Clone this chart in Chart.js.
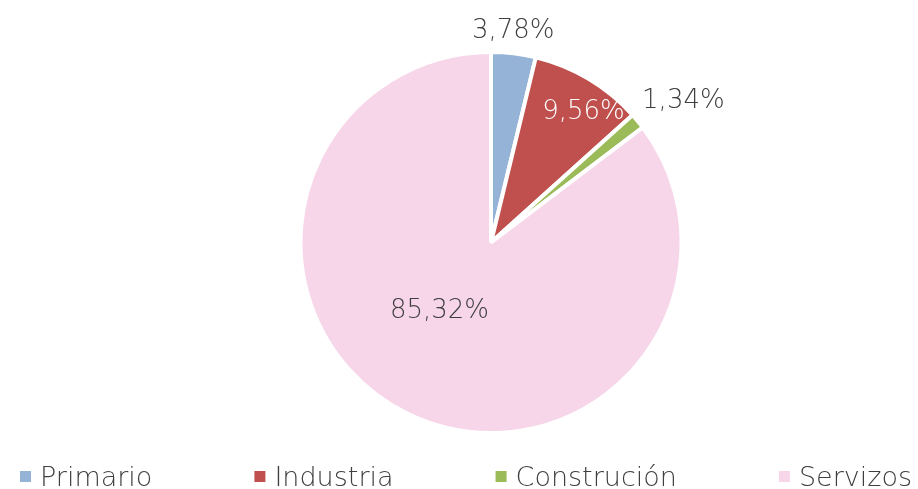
<!DOCTYPE html>
<html>
<head>
<meta charset="utf-8">
<script src="https://cdn.jsdelivr.net/npm/chart.js@4/dist/chart.umd.min.js"></script>
<style>
html,body{margin:0;padding:0;background:#fff;}
#wrap{width:918px;height:489px;position:relative;}
</style>
</head>
<body>
<div id="wrap"><canvas id="c" width="918" height="489"></canvas></div>
<script>
const categories = ["Primario", "Industria", "Construción", "Servizos"];
const shares = [3.78, 9.56, 1.34, 85.32];
const valueLabels = ["3,78%", "9,56%", "1,34%", "85,32%"];
const sliceColors = ["#95B3D7", "#C0504D", "#9BBB59", "#F7D6E9"];

const FONT = "'DejaVu Sans ExtraLight', 'DejaVu Sans Light', 'DejaVu Sans', sans-serif";
// label placement: radius factor, angle shift (deg) and colour per slice
const labelRadius = [1.117, 0.84, 1.254, 0.45];
const labelShift = [-0.8, 4.5, 3.2, 10.5];
const labelColor = ["#3F3F3F", "#FFFFFF", "#3F3F3F", "#3F3F3F"];

const labelPlugin = {
  id: 'sliceLabels',
  afterDatasetsDraw(chart) {
    const ctx = chart.ctx;
    const meta = chart.getDatasetMeta(0);
    ctx.save();
    ctx.font = "300 26px " + FONT;
    ctx.textAlign = 'center';
    ctx.textBaseline = 'middle';
    meta.data.forEach((arc, i) => {
      const p = arc.getProps(['x','y','startAngle','endAngle','outerRadius'], true);
      const mid = (p.startAngle + p.endAngle) / 2 + labelShift[i] * Math.PI / 180;
      const r = p.outerRadius * labelRadius[i];
      ctx.fillStyle = labelColor[i];
      ctx.fillText(valueLabels[i], p.x + Math.cos(mid) * r, p.y + Math.sin(mid) * r);
    });
    ctx.restore();
  }
};

const legendPlugin = {
  id: 'bottomLegend',
  afterDraw(chart) {
    const ctx = chart.ctx;
    ctx.save();
    ctx.font = "300 27px " + FONT;
    ctx.textBaseline = 'middle';
    const labels = chart.data.labels;
    const colors = chart.data.datasets[0].backgroundColor;
    const left = 20, right = 912, box = 11, textGap = 9, y = 476.5;
    const widths = labels.map(l => ctx.measureText(l).width);
    const used = widths.reduce((a, b) => a + b, 0) + labels.length * (box + textGap);
    const gap = (right - left - used) / (labels.length - 1);
    let x = left;
    labels.forEach((l, i) => {
      ctx.fillStyle = colors[i];
      ctx.fillRect(x, y - box / 2, box, box);
      ctx.fillStyle = '#3F3F3F';
      ctx.fillText(l, x + box + textGap, y + 2);
      x += box + textGap + widths[i] + gap;
    });
    ctx.restore();
  }
};

new Chart(document.getElementById('c'), {
  type: 'pie',
  data: {
    labels: categories,
    datasets: [{
      data: shares,
      backgroundColor: sliceColors,
      borderColor: '#FFFFFF',
      borderWidth: 4
    }]
  },
  options: {
    responsive: false,
    animation: false,
    layout: { padding: { top: 50, bottom: 54, left: 64, right: 0 } },
    plugins: { legend: { display: false }, tooltip: { enabled: false } }
  },
  plugins: [labelPlugin, legendPlugin]
});
</script>
</body>
</html>
